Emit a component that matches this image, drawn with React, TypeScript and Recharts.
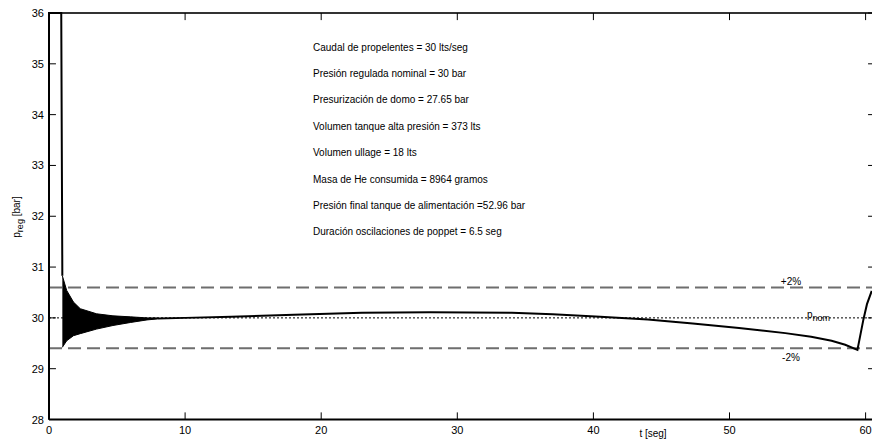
import React from 'react';
import { ComposedChart, Line, Area, XAxis, YAxis, ReferenceLine } from 'recharts';

const xTicks = [0, 10, 20, 30, 40, 50, 60];
const yTicks = [28, 29, 30, 31, 32, 33, 34, 35, 36];

// arranque: apertura y caída hacia la presión regulada
const startT = [0, 0, 0.9, 0.98];
const startP = [28, 36, 36, 30.83];

// envolvente de las oscilaciones del poppet
const bandT = [0.98, 1.3, 1.8, 2.3, 3.5, 4.7, 6.0, 7.2, 8.0];
const bandHi = [30.83, 30.54, 30.31, 30.18, 30.08, 30.04, 30.02, 30.0, 30.0];
const bandLo = [29.42, 29.55, 29.65, 29.69, 29.78, 29.85, 29.91, 29.96, 29.98];

// presión regulada tras las oscilaciones
const mainT = [8, 10, 13.4, 18, 23, 28, 34, 37, 40.5, 44, 47.3, 50.7, 54.1, 56, 57.5, 58.5, 59.4, 59.84, 60.1, 60.45];
const mainP = [29.99, 30.0, 30.02, 30.06, 30.1, 30.11, 30.1, 30.07, 30.02, 29.97, 29.89, 29.8, 29.7, 29.63, 29.55, 29.47, 29.37, 29.97, 30.27, 30.53];

const infoLines = [
  'Caudal de propelentes = 30 lts/seg',
  'Presión regulada nominal = 30 bar',
  'Presurización de domo = 27.65 bar',
  'Volumen tanque alta presión = 373 lts',
  'Volumen ullage =  18 lts',
  'Masa de He consumida = 8964 gramos',
  'Presión final tanque de alimentación =52.96 bar',
  'Duración oscilaciones de poppet = 6.5 seg',
];

const FONT = 'Liberation Sans, Arial, sans-serif';
const X_MIN = 0;
const X_MAX = 60.69;
const Y_MIN = 28;
const Y_MAX = 36;
// largo de las marcas hacia adentro (~7 px) en unidades de cada eje
const TICK_X = 0.51;
const TICK_Y = 0.14;

const startData = startT.map((t, i) => ({ t, p: startP[i] }));
const bandData = bandT.map((t, i) => ({ t, r: [bandLo[i], bandHi[i]] }));
const mainData = mainT.map((t, i) => ({ t, p: mainP[i] }));

const BottomLabel = (props: any) => {
  const { x, y, payload } = props;
  return (
    <text x={x} y={y + 12} textAnchor="middle" fontSize={11} fontFamily={FONT} fill="#000">
      {payload.value}
    </text>
  );
};

const LeftLabel = (props: any) => {
  const { x, y, payload } = props;
  return (
    <text x={x - 3} y={y + 4} textAnchor="end" fontSize={11} fontFamily={FONT} fill="#000">
      {payload.value}
    </text>
  );
};

export default function App() {
  return (
    <div style={{ position: 'absolute', left: 0, top: 0, width: 872, height: 441, overflow: 'hidden', background: '#fff' }}>
      <ComposedChart width={880} height={441} margin={{ top: 13, right: 5, bottom: 1.5, left: 9 }}>
        <XAxis
          dataKey="t"
          type="number"
          domain={[X_MIN, X_MAX]}
          ticks={xTicks}
          interval={0}
          height={20}
          tickSize={0}
          tickLine={false}
          axisLine={{ stroke: '#000', strokeWidth: 2 }}
          tick={<BottomLabel />}
        />
        <YAxis
          type="number"
          domain={[Y_MIN, Y_MAX]}
          ticks={yTicks}
          interval={0}
          width={40}
          tickSize={0}
          tickLine={false}
          axisLine={{ stroke: '#000', strokeWidth: 2 }}
          tick={<LeftLabel />}
        />
        <ReferenceLine y={Y_MAX} stroke="#333" strokeWidth={2} />
        {xTicks.map((v) => (
          <ReferenceLine key={`b${v}`} segment={[{ x: v, y: Y_MIN }, { x: v, y: Y_MIN + TICK_Y }]} stroke="#000" strokeWidth={1} />
        ))}
        {xTicks.map((v) => (
          <ReferenceLine key={`t${v}`} segment={[{ x: v, y: Y_MAX }, { x: v, y: Y_MAX - TICK_Y }]} stroke="#000" strokeWidth={1} />
        ))}
        {yTicks.map((v) => (
          <ReferenceLine key={`l${v}`} segment={[{ x: X_MIN, y: v }, { x: X_MIN + TICK_X, y: v }]} stroke="#000" strokeWidth={1} />
        ))}
        {yTicks.map((v) => (
          <ReferenceLine key={`r${v}`} segment={[{ x: X_MAX, y: v }, { x: X_MAX - TICK_X, y: v }]} stroke="#000" strokeWidth={1} />
        ))}
        <ReferenceLine y={30.6} stroke="#6e6e6e" strokeWidth={2} strokeDasharray="13 6" />
        <ReferenceLine y={29.4} stroke="#6e6e6e" strokeWidth={2} strokeDasharray="13 6" />
        <ReferenceLine y={30} stroke="#000" strokeWidth={1} strokeDasharray="2 2" />
        <Area
          data={bandData}
          dataKey="r"
          type="linear"
          stroke="#000"
          strokeWidth={1}
          fill="#000"
          fillOpacity={1}
          isAnimationActive={false}
        />
        <Line data={startData} dataKey="p" type="linear" stroke="#000" strokeWidth={2} dot={false} isAnimationActive={false} />
        <Line data={mainData} dataKey="p" type="linear" stroke="#000" strokeWidth={2} dot={false} isAnimationActive={false} />
      </ComposedChart>
      <svg width={872} height={441} style={{ position: 'absolute', left: 0, top: 0, pointerEvents: 'none' }}>
        <g fontFamily={FONT} fontSize={10} fill="#000">
          {infoLines.map((s, i) => (
            <text key={i} x={313} y={47 + i * 26.4} dominantBaseline="central">
              {s}
            </text>
          ))}
          <text x={791} y={281} textAnchor="middle" dominantBaseline="central">+2%</text>
          <text x={791} y={357} textAnchor="middle" dominantBaseline="central">-2%</text>
          <text x={807} y={318}>
            p<tspan dy={3} fontSize={9}>nom</tspan>
          </text>
          <text x={653} y={437} textAnchor="middle">t [seg]</text>
          <text transform="translate(20,217) rotate(-90)" textAnchor="middle">
            p<tspan dy={3} fontSize={9}>reg</tspan>
            <tspan dy={-3}> [bar]</tspan>
          </text>
        </g>
      </svg>
    </div>
  );
}
